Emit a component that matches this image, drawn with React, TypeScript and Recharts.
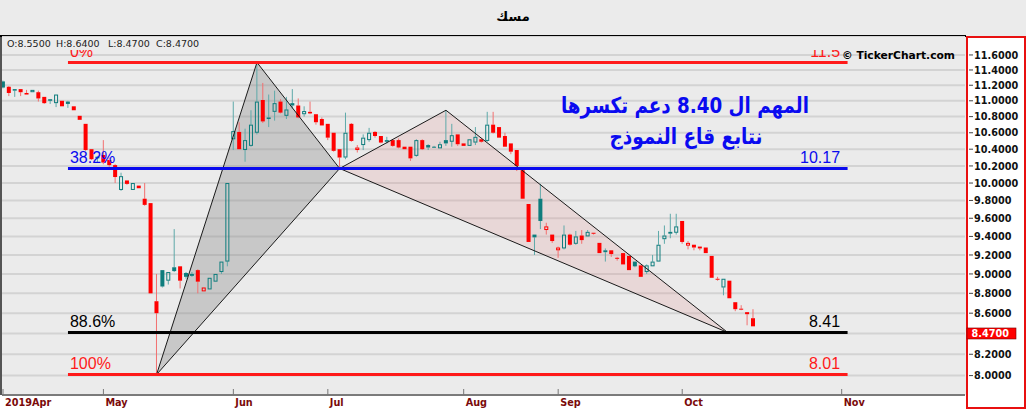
import React from "react";
import {
  Area,
  Bar,
  CartesianGrid,
  ComposedChart,
  ReferenceLine,
  XAxis,
  YAxis,
} from "recharts";

// daily candles, oldest first (Apr 2019 -> Oct 2019)
const opens = [
  11.25, 11.18, 11.15, 11.15, 11.08, 11.11, 11.11, 11.05, 11.02, 10.97,
  11.0, 10.99, 10.93, 10.81, 10.71, 10.4, 10.31, 10.33, 10.27, 10.21,
  9.92, 10.03, 9.92, 9.97, 9.82, 9.77, 8.72, 9.04, 8.93, 9.07,
  9.08, 9.01, 9.0, 9.04, 8.82, 8.84, 8.92, 9.02, 9.13, 10.52,
  10.61, 10.39, 10.44, 10.6, 11.01, 10.79, 10.86, 10.99, 10.81, 10.97,
  10.94, 10.83, 10.86, 10.83, 10.77, 10.71, 10.6, 10.4, 10.3, 10.71,
  10.39, 10.45, 10.51, 10.61, 10.56, 10.51, 10.51, 10.51, 10.43, 10.43,
  10.32, 10.51, 10.45, 10.43, 10.41, 10.51, 10.49, 10.58, 10.47, 10.44,
  10.48, 10.52, 10.5, 10.7, 10.67, 10.56, 10.47, 10.39, 10.15, 9.76,
  9.42, 9.82, 9.47, 9.42, 9.25, 9.27, 9.42, 9.32, 9.41, 9.4,
  9.44, 9.33, 9.25, 9.25, 9.17, 9.22, 9.19, 9.13, 9.09, 9.02,
  9.08, 9.13, 9.37, 9.45, 9.44, 9.57, 9.3, 9.31, 9.29, 9.28,
  9.19, 8.95, 8.86, 8.93, 8.71, 8.645, 8.59, 8.55,
];
const highs = [
  11.26, 11.19, 11.15, 11.15, 11.14, 11.14, 11.13, 11.05, 11.02, 11.08,
  11.0, 11.0, 10.93, 10.81, 10.71, 10.4, 10.32, 10.51, 10.3, 10.22,
  10.12, 10.03, 10.0, 9.97, 10.0, 9.77, 9.0, 9.04, 9.02, 9.48,
  9.08, 9.02, 9.02, 9.05, 8.86, 8.96, 9.0, 9.13, 10.0, 10.99,
  10.73, 10.65, 10.88, 11.5, 11.23, 11.08, 11.13, 11.02, 11.05, 11.15,
  11.03, 10.93, 10.99, 10.83, 10.79, 10.71, 10.6, 10.4, 10.85, 10.72,
  10.45, 10.58, 10.66, 10.62, 10.56, 10.55, 10.52, 10.53, 10.43, 10.43,
  10.52, 10.52, 10.46, 10.44, 10.49, 10.88, 10.71, 10.58, 10.47, 10.52,
  10.67, 10.53, 10.86, 10.86, 10.67, 10.6, 10.47, 10.39, 10.15, 9.76,
  9.42, 9.99, 9.55, 9.42, 9.29, 9.52, 9.43, 9.46, 9.47, 9.47,
  9.44, 9.33, 9.27, 9.25, 9.18, 9.22, 9.19, 9.13, 9.09, 9.1,
  9.2, 9.46, 9.52, 9.65, 9.65, 9.57, 9.35, 9.31, 9.29, 9.28,
  9.19, 8.97, 8.95, 8.93, 8.71, 8.68, 8.61, 8.64,
];
const lows = [
  11.16, 11.06, 11.05, 11.06, 11.08, 11.11, 10.99, 10.96, 10.96, 10.92,
  10.93, 10.91, 10.88, 10.76, 10.38, 10.27, 10.24, 10.22, 10.19, 10.0,
  9.91, 9.98, 9.92, 9.94, 9.74, 8.8, 8.01, 8.86, 8.89, 9.02,
  8.85, 8.95, 8.97, 8.8, 8.82, 8.84, 8.92, 9.0, 9.08, 10.39,
  10.4, 10.25, 10.43, 10.58, 10.72, 10.67, 10.75, 10.84, 10.77, 10.9,
  10.78, 10.8, 10.83, 10.7, 10.69, 10.51, 10.37, 10.18, 10.28, 10.49,
  10.36, 10.39, 10.49, 10.54, 10.47, 10.47, 10.43, 10.41, 10.4, 10.26,
  10.31, 10.39, 10.39, 10.42, 10.41, 10.44, 10.43, 10.44, 10.44, 10.44,
  10.45, 10.48, 10.49, 10.59, 10.54, 10.43, 10.34, 10.14, 9.82, 9.34,
  9.2, 9.48, 9.42, 9.33, 9.17, 9.26, 9.3, 9.31, 9.32, 9.4,
  9.42, 9.22, 9.13, 9.18, 9.14, 9.1, 9.04, 9.07, 8.97, 9.0,
  9.08, 9.13, 9.32, 9.38, 9.42, 9.32, 9.26, 9.25, 9.25, 9.22,
  8.96, 8.93, 8.78, 8.75, 8.62, 8.63, 8.48, 8.47,
];
const closes = [
  11.17, 11.1, 11.13, 11.11, 11.1, 11.14, 11.03, 10.97, 11.0, 11.08,
  10.93, 10.96, 10.88, 10.76, 10.39, 10.28, 10.29, 10.24, 10.21, 10.07,
  10.08, 9.99, 10.0, 9.94, 9.75, 8.8, 8.6, 8.87, 9.02, 9.03,
  8.93, 8.97, 8.98, 8.92, 8.86, 8.96, 9.0, 9.13, 10.0, 10.62,
  10.4, 10.51, 10.7, 10.99, 10.74, 10.77, 10.97, 10.85, 10.89, 10.94,
  10.79, 10.87, 10.84, 10.73, 10.69, 10.54, 10.38, 10.3, 10.6, 10.5,
  10.42, 10.54, 10.6, 10.56, 10.48, 10.49, 10.44, 10.42, 10.4, 10.29,
  10.51, 10.4, 10.42, 10.43, 10.46, 10.47, 10.57, 10.46, 10.44, 10.52,
  10.55, 10.49, 10.7, 10.6, 10.54, 10.43, 10.37, 10.2, 9.82, 9.34,
  9.39, 9.57, 9.51, 9.35, 9.28, 9.42, 9.31, 9.4, 9.36, 9.45,
  9.43, 9.22, 9.23, 9.21, 9.16, 9.1, 9.04, 9.08, 8.97, 9.09,
  9.13, 9.31, 9.41, 9.43, 9.51, 9.34, 9.33, 9.28, 9.27, 9.22,
  8.96, 8.94, 8.95, 8.75, 8.64, 8.635, 8.61, 8.47,
];

// x axis: candle index of each month start
const monthTicks = [0, 17, 39, 55, 78, 94, 115, 142];
const monthLabels = ["2019Apr", "May", "Jun", "Jul", "Aug", "Sep", "Oct", "Nov"];

const priceTicks = [
  8, 8.2, 8.4, 8.6, 8.8, 9, 9.2, 9.4, 9.6, 9.8, 10, 10.2, 10.4, 10.6, 10.8, 11,
  11.2, 11.4, 11.6,
];

// harmonic pattern points X, A, B, C, D
const patternIdx = [26, 43, 57, 75, 122.7];
const patternPrice = [8.01, 11.5, 10.17, 10.88, 8.41];

// fibonacci levels
const fibPrices = [11.5, 10.17, 8.41, 8.01];
const fibNames = ["0%", "38.2%", "88.6%", "100%"];
const fibSpan = [11, 143];

const fibColors = ["#ff1a1a", "#0a0aee", "#000000", "#ff1a1a"];
const TEAL = "#0e7d7d";
const TEAL_WICK = "#5ea9a9";
const RED = "#ff0000";
const RED_WICK = "#f27070";
const BG = "#ebebeb";

const candles = opens.map((o, i) => ({
  i,
  o,
  h: highs[i],
  l: lows[i],
  c: closes[i],
  up: i === 0 || closes[i] >= closes[i - 1],
  range: [lows[i], highs[i]],
}));

const lastClose = closes[closes.length - 1];
const boxTick = priceTicks.reduce((a, b) =>
  Math.abs(b - lastClose) < Math.abs(a - lastClose) ? b : a
);

// straight (screen) line between two pattern points on the log axis
const onLine = (a: number, b: number, at: number) => {
  const t = (at - patternIdx[a]) / (patternIdx[b] - patternIdx[a]);
  const la = Math.log(patternPrice[a]);
  const lb = Math.log(patternPrice[b]);
  return Math.exp(la + (lb - la) * t);
};

const triangle = (a: number, apex: number, b: number) => {
  const base = onLine(a, b, patternIdx[apex]);
  return [
    { i: patternIdx[a], r: [patternPrice[a], patternPrice[a]] },
    {
      i: patternIdx[apex],
      r: [Math.min(base, patternPrice[apex]), Math.max(base, patternPrice[apex])],
    },
    { i: patternIdx[b], r: [patternPrice[b], patternPrice[b]] },
  ];
};

const xabArea = triangle(0, 1, 2);
const bcdArea = triangle(2, 3, 4);
const edges = [
  [0, 1],
  [1, 2],
  [0, 2],
  [2, 3],
  [3, 4],
  [2, 4],
];

const Candle = (props: any) => {
  const { x, y, width, height, payload } = props;
  const { o, h, l, c, up } = payload;
  const cx = x + width / 2;
  const lh = Math.log(h);
  const ll = Math.log(l);
  const py = (v: number) =>
    lh === ll ? y : y + (height * (lh - Math.log(v))) / (lh - ll);
  const top = py(Math.max(o, c));
  const bot = py(Math.min(o, c));
  const col = up ? TEAL : RED;
  const wick = up ? TEAL_WICK : RED_WICK;
  const hollow = c > o;
  return (
    <g>
      {top - y > 0.3 && (
        <line x1={cx} x2={cx} y1={y} y2={top} stroke={wick} strokeWidth={1} />
      )}
      {y + height - bot > 0.3 && (
        <line x1={cx} x2={cx} y1={bot} y2={y + height} stroke={wick} strokeWidth={1} />
      )}
      {hollow ? (
        <rect
          x={cx - 1.5}
          y={top + 0.5}
          width={3}
          height={Math.max(bot - top - 1, 0.5)}
          fill="none"
          stroke={col}
          strokeWidth={1}
        />
      ) : (
        <rect x={cx - 2} y={top} width={4} height={Math.max(bot - top, 1)} fill={col} />
      )}
    </g>
  );
};

const XTick = (props: any) => {
  const { x, y, payload } = props;
  const k = monthTicks.indexOf(payload.value);
  return (
    <g>
      <line x1={x} x2={x} y1={y - 6} y2={y} stroke="#777" />
      <text
        x={x + 2}
        y={y + 11}
        fill="#7a0a0a"
        fontWeight="bold"
        fontSize={9.7}
        fontFamily="DejaVu Sans"
      >
        {monthLabels[k]}
      </text>
    </g>
  );
};

const YTick = (props: any) => {
  const { x, y, payload } = props;
  const v = payload.value;
  return (
    <g>
      <line x1={x + 4} x2={x + 8} y1={y} y2={y} stroke="#444" />
      {v === boxTick ? (
        <g>
          <rect x={x + 2} y={y - 5.5} width={49} height={11} fill="#ff0000" stroke="#700" strokeWidth={0.6} />
          <text
            x={x + 6.5}
            y={y + 3.6}
            fill="#ffffff"
            fontWeight="bold"
            fontSize={9.7}
            fontFamily="DejaVu Sans"
          >
            {lastClose.toFixed(4)}
          </text>
        </g>
      ) : (
        <text
          x={x + 9}
          y={y + 3.6}
          fill="#111"
          fontWeight="bold"
          fontSize={9.7}
          fontFamily="DejaVu Sans"
        >
          {v.toFixed(4)}
        </text>
      )}
    </g>
  );
};

const fibLabel = (k: number) => (props: any) => {
  const vb = props.viewBox || props;
  const y = vb.y - 5.5;
  return (
    <g fontFamily="Liberation Sans" fontSize={16} fill={fibColors[k]}>
      <text x={vb.x + 2} y={y}>
        {fibNames[k]}
      </text>
      <text x={vb.x + vb.width - 7.5} y={y} textAnchor="end">
        {String(fibPrices[k])}
      </text>
    </g>
  );
};

export default function App() {
  return (
    <div
      style={{
        position: "absolute",
        left: 0,
        top: 0,
        width: 1026,
        height: 409,
        background: BG,
        overflow: "hidden",
      }}
    >
      <div style={{ position: "absolute", left: 0, top: 395, width: 966, height: 14, background: "#fff" }} />
      <div style={{ position: "absolute", left: 0, top: 35, width: 966, height: 2, background: "#000" }} />
      <div
        style={{
          position: "absolute",
          left: 966,
          top: 36,
          width: 60,
          height: 373,
          background: "#fff",
          border: "2px solid #e81010",
          boxSizing: "border-box",
        }}
      />
      <div style={{ position: "absolute", left: 0, top: 37, width: 2, height: 358, background: "#555" }} />
      <div style={{ position: "absolute", left: 0, top: 0 }}>
        <ComposedChart
          width={1026}
          height={409}
          data={candles}
          margin={{ top: 37, right: 0, bottom: 0, left: 2 }}
        >
          <CartesianGrid vertical={false} stroke="#d3d3d3" strokeWidth={2} />
          <XAxis
            type="number"
            dataKey="i"
            domain={[-0.17, 162.88]}
            allowDataOverflow
            ticks={monthTicks}
            interval={0}
            tickSize={0}
            tickMargin={0}
            height={14}
            axisLine={{ stroke: "#222" }}
            tick={<XTick />}
          />
          <YAxis
            orientation="right"
            scale="log"
            domain={[7.822, 11.844]}
            allowDataOverflow
            ticks={priceTicks}
            interval={0}
            tickSize={0}
            tickMargin={0}
            width={61}
            axisLine={false}
            tick={<YTick />}
          />
          <Area
            data={xabArea}
            dataKey="r"
            type="linear"
            stroke="none"
            fill="#808080"
            fillOpacity={0.32}
            dot={false}
            activeDot={false}
            isAnimationActive={false}
          />
          <Area
            data={bcdArea}
            dataKey="r"
            type="linear"
            stroke="none"
            fill="#e09090"
            fillOpacity={0.22}
            dot={false}
            activeDot={false}
            isAnimationActive={false}
          />
          <Bar dataKey="range" barSize={5} shape={<Candle />} isAnimationActive={false} />
          {edges.map(([a, b]) => (
            <ReferenceLine
              key={`e${a}${b}`}
              segment={[
                { x: patternIdx[a], y: patternPrice[a] },
                { x: patternIdx[b], y: patternPrice[b] },
              ]}
              stroke="#1a1a1a"
              strokeWidth={1}
              ifOverflow="visible"
            />
          ))}
          {fibPrices.map((p, k) => (
            <ReferenceLine
              key={`f${k}`}
              segment={[
                { x: fibSpan[0], y: p },
                { x: fibSpan[1], y: p },
              ]}
              stroke={fibColors[k]}
              strokeWidth={3}
              ifOverflow="visible"
              label={fibLabel(k)}
            />
          ))}
        </ComposedChart>
      </div>
      <svg
        width={1026}
        height={409}
        style={{ position: "absolute", left: 0, top: 0, pointerEvents: "none" }}
      >
        <rect x={2} y={37} width={963} height={13} fill={BG} />
        <g fontFamily="DejaVu Sans" fontSize={9.5} fill="#222">
          <text x={7} y={47.3}>O:8.5500</text>
          <text x={56} y={47.3}>H:8.6400</text>
          <text x={108} y={47.3}>L:8.4700</text>
          <text x={156} y={47.3}>C:8.4700</text>
        </g>
        <text
          x={842}
          y={58.5}
          fontFamily="DejaVu Sans"
          fontWeight="bold"
          fontSize={11}
          fill="#000"
          textLength={113}
          lengthAdjust="spacingAndGlyphs"
        >
          © TickerChart.com
        </text>
        <text
          x={513}
          y={21}
          textAnchor="middle"
          fontFamily="DejaVu Sans"
          fontWeight="bold"
          fontSize={13}
          fill="#000"
        >
          مسك
        </text>
        <g
          fontFamily="DejaVu Sans"
          fontWeight="bold"
          fontSize={22}
          fill="#0a0af0"
          textAnchor="middle"
        >
          <text x={685} y={113.3} textLength={248} lengthAdjust="spacingAndGlyphs">
            المهم ال 8.40 دعم تكسرها
          </text>
          <text x={686} y={144} textLength={153} lengthAdjust="spacingAndGlyphs">
            نتابع قاع النموذج
          </text>
        </g>
      </svg>
    </div>
  );
}
